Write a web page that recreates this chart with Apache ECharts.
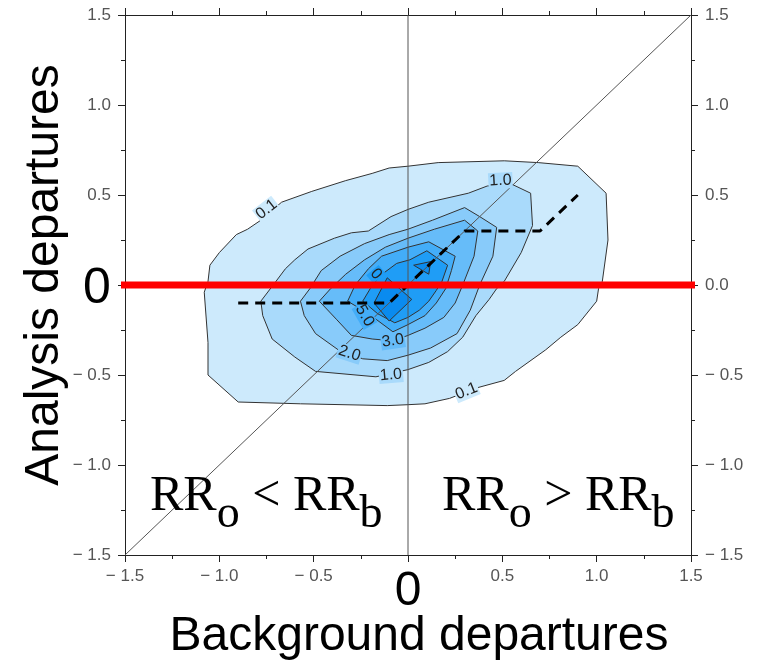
<!DOCTYPE html>
<html><head><meta charset="utf-8">
<script src="https://cdn.jsdelivr.net/npm/echarts@6/dist/echarts.min.js"></script>
<style>html,body{margin:0;padding:0;background:#fff}#c{width:761px;height:665px}</style>
</head><body><div id="c"></div>
<script>
// ---- data ----
const axisMin = -1.5, axisMax = 1.5, axisStep = 0.5;
const contourLevels = ['0.1', '1.0', '2.0', '3.0', '5.0', '7.0', '9.0'];
const contour01 = [[-1.08,-0.04],[-1.06,-0.32],[-1.06,-0.50],[-0.90,-0.65],[-0.57,-0.66],[-0.11,-0.67],[0.00,-0.665],[0.09,-0.66],[0.22,-0.63],[0.37,-0.57],[0.51,-0.53],[0.57,-0.48],[0.73,-0.36],[0.81,-0.29],[0.90,-0.22],[1.00,-0.09],[1.01,-0.02],[1.03,0.02],[1.06,0.25],[1.05,0.51],[0.90,0.66],[0.69,0.68],[0.51,0.69],[0.16,0.68],[0.00,0.66],[-0.10,0.65],[-0.19,0.62],[-0.33,0.58],[-0.51,0.52],[-0.67,0.46],[-0.78,0.36],[-0.85,0.31],[-0.91,0.28],[-1.00,0.18],[-1.05,0.11],[-1.06,0.02]];
const contour10 = [[0.00,0.42],[-0.09,0.38],[-0.21,0.30],[-0.30,0.29],[-0.39,0.26],[-0.53,0.20],[-0.60,0.14],[-0.65,0.09],[-0.70,0.02],[-0.78,-0.09],[-0.77,-0.17],[-0.72,-0.30],[-0.60,-0.40],[-0.49,-0.48],[-0.17,-0.51],[0.00,-0.47],[0.11,-0.43],[0.21,-0.37],[0.29,-0.29],[0.36,-0.17],[0.43,-0.08],[0.47,-0.02],[0.51,0.02],[0.60,0.18],[0.66,0.33],[0.65,0.51],[0.55,0.56],[0.42,0.55],[0.32,0.51],[0.11,0.46]];
const contour20 = [[-0.57,-0.09],[-0.52,-0.02],[-0.46,0.08],[-0.36,0.16],[-0.23,0.23],[-0.10,0.28],[0.00,0.31],[0.13,0.36],[0.30,0.43],[0.38,0.38],[0.47,0.32],[0.45,0.16],[0.38,0.00],[0.33,-0.14],[0.26,-0.27],[0.12,-0.35],[0.00,-0.39],[-0.11,-0.42],[-0.24,-0.41],[-0.37,-0.36],[-0.49,-0.27],[-0.55,-0.17]];
const contour30 = [[-0.47,-0.09],[-0.41,-0.02],[-0.33,0.06],[-0.23,0.14],[-0.12,0.21],[0.00,0.26],[0.14,0.31],[0.30,0.36],[0.37,0.30],[0.35,0.16],[0.29,0.00],[0.25,-0.10],[0.19,-0.18],[0.09,-0.24],[0.00,-0.28],[-0.08,-0.31],[-0.19,-0.30],[-0.30,-0.28],[-0.38,-0.19]];
const contour50 = [[-0.32,-0.09],[-0.28,0.00],[-0.21,0.09],[-0.14,0.16],[0.00,0.21],[0.11,0.24],[0.25,0.16],[0.23,0.08],[0.20,-0.02],[0.15,-0.10],[0.09,-0.17],[0.00,-0.22],[-0.08,-0.26],[-0.17,-0.19],[-0.24,-0.14]];
const contour70 = [[-0.24,-0.09],[-0.20,-0.02],[-0.15,0.05],[-0.06,0.12],[0.01,0.14],[0.10,0.19],[0.21,0.11],[0.18,0.02],[0.15,-0.03],[0.11,-0.09],[0.06,-0.14],[0.00,-0.18],[-0.07,-0.21],[-0.16,-0.16]];
const contour90a = [[-0.11,0.04],[0.02,-0.08],[-0.10,-0.20],[-0.18,-0.10]];
const contour90b = [[0.03,0.11],[0.12,0.13],[0.11,0.06]];
const diagonalX = [-1.5, 1.5], diagonalY = [-1.5, 1.5];
const verticalX = [0, 0], verticalY = [-1.5, 1.5];
const zeroLineX = [-1.55, 1.555], zeroLineY = [0, 0];
const dashedX = [-0.9, -0.1, 0.3, 0.7, 0.9];
const dashedY = [-0.1, -0.1, 0.3, 0.3, 0.5];
const labelText = ['0.1', '0.1', '1.0', '1.0', '2.0', '3.0', '5.0', '0'];
const labelX = [-0.75, 0.31, 0.49, -0.09, -0.31, -0.08, -0.23, -0.17];
const labelY = [0.42, -0.59, 0.58, -0.50, -0.38, -0.31, -0.17, 0.06];
const labelAngle = [38, 22, 3, 5, -18, 8, -60, -50];
const labelRegion = [0, 0, 1, 1, 2, 3, 4, 5];

// ---- styles ----
const fills = ['#cdeafc', '#a9dafb', '#88cbfa', '#66bcf9', '#43adf8', '#1f9df6', '#0a8bef'];
const contourRings = [[contour01], [contour10], [contour20], [contour30], [contour50], [contour70], [contour90a, contour90b]];

function polygonSeries(rings, fill) {
  return {
    type: 'custom', z: 2, silent: true, data: [[0, 0]],
    renderItem: function (params, api) {
      return {
        type: 'group',
        children: rings.map(function (ring) {
          return {
            type: 'polygon',
            shape: { points: ring.map(function (p) { return api.coord(p); }) },
            style: { fill: fill, stroke: '#333', lineWidth: 1 }
          };
        })
      };
    }
  };
}
function pairs(xs, ys) { return xs.map(function (x, i) { return [x, ys[i]]; }); }
const fmt = function (v) {
  if (Math.abs(v) < 1e-9) return '';
  return (v < 0 ? '\u2212 ' : '') + Math.abs(v).toFixed(1);
};
const fmtRight = function (v) {
  return (v < -1e-9 ? '\u2212 ' : '') + Math.abs(v).toFixed(1);
};
const axisCommon = {
  type: 'value', min: axisMin, max: axisMax, interval: axisStep,
  axisLine: { show: true, onZero: false, lineStyle: { color: '#222', width: 1 } },
  axisTick: { show: true, inside: false, length: 7, lineStyle: { color: '#222' } },
  minorTick: { show: true, splitNumber: 2, length: 4, lineStyle: { color: '#222' } },
  splitLine: { show: false }, minorSplitLine: { show: false }
};
const lbl = { color: '#555', fontSize: 17, fontFamily: 'Liberation Sans' };

const series = contourRings.map(function (r, i) { return polygonSeries(r, fills[i]); });
series.push({ type: 'line', data: pairs(diagonalX, diagonalY), symbol: 'none', z: 3, silent: true, lineStyle: { color: '#555', width: 1 } });
series.push({ type: 'line', data: pairs(verticalX, verticalY), symbol: 'none', z: 3, silent: true, lineStyle: { color: '#555', width: 1 } });
series.push({
  type: 'custom', z: 4, silent: true,
  data: labelX.map(function (x, i) { return [x, labelY[i], i]; }),
  renderItem: function (params, api) {
    const i = api.value(2);
    const pt = api.coord([api.value(0), api.value(1)]);
    return {
      type: 'text', x: pt[0], y: pt[1], rotation: labelAngle[i] * Math.PI / 180,
      style: { text: labelText[i], fontSize: 16, fontFamily: 'Liberation Sans', fill: '#222',
        align: 'center', verticalAlign: 'middle', backgroundColor: fills[labelRegion[i]], padding: [0, 1] }
    };
  }
});
series.push({ type: 'line', data: pairs(dashedX, dashedY), symbol: 'none', z: 5, silent: true, lineStyle: { color: '#000', width: 3, type: [10, 7] } });
series.push({ type: 'line', data: pairs(zeroLineX, zeroLineY), symbol: 'none', z: 6, silent: true, clip: false, lineStyle: { color: '#ff0000', width: 7 } });

const bigFont = 'Liberation Sans';
const serif = 'Liberation Serif';
function txt(x, y, s, size, family) {
  return { type: 'text', x: x, y: y, z: 10,
    style: { text: s, fontSize: size, fontFamily: family, fill: '#000', align: 'left', verticalAlign: 'middle' } };
}
function ctxt(x, y, s, size, rot) {
  return { type: 'text', x: x, y: y, rotation: rot || 0, z: 10,
    style: { text: s, fontSize: size, fontFamily: bigFont, fill: '#000', align: 'center', verticalAlign: 'middle' } };
}
const rrSize = 50, subSize = 46, rrMain = 497, rrSub = 515;
function rrGroup(x0, op) {
  const R2 = rrSize * 0.667 * 2, sub = subSize * 0.5, mid = rrSize * (0.25 + 0.564 + 0.25);
  return [
    txt(x0, rrMain, 'RR', rrSize, serif),
    txt(x0 + R2, rrSub, 'o', subSize, serif),
    txt(x0 + R2 + sub, rrMain, ' ' + op + ' RR', rrSize, serif),
    txt(x0 + R2 + sub + mid + R2, rrSub, 'b', subSize, serif)
  ];
}

const chart = echarts.init(document.getElementById('c'), null, { renderer: 'canvas' });
chart.setOption({
  animation: false,
  backgroundColor: '#fff',
  grid: { left: 125, right: 70, top: 15, bottom: 110, containLabel: false },
  xAxis: [
    Object.assign({}, axisCommon, { position: 'bottom', axisLabel: Object.assign({ formatter: fmt, margin: 13 }, lbl) }),
    Object.assign({}, axisCommon, { position: 'top', axisLabel: { show: false } })
  ],
  yAxis: [
    Object.assign({}, axisCommon, { position: 'left', axisLabel: Object.assign({ formatter: fmt, margin: 14 }, lbl) }),
    Object.assign({}, axisCommon, { position: 'right', axisLabel: Object.assign({ formatter: fmtRight, margin: 14 }, lbl) })
  ],
  series: series,
  graphic: [
    ctxt(45, 275, 'Analysis departures', 48, Math.PI / 2),
    ctxt(97, 289, '0', 50),
    ctxt(408, 592, '0', 48),
    ctxt(419, 637, 'Background departures', 48)
  ].concat(rrGroup(150, '<'), rrGroup(442, '>'))
});
</script>
</body></html>
